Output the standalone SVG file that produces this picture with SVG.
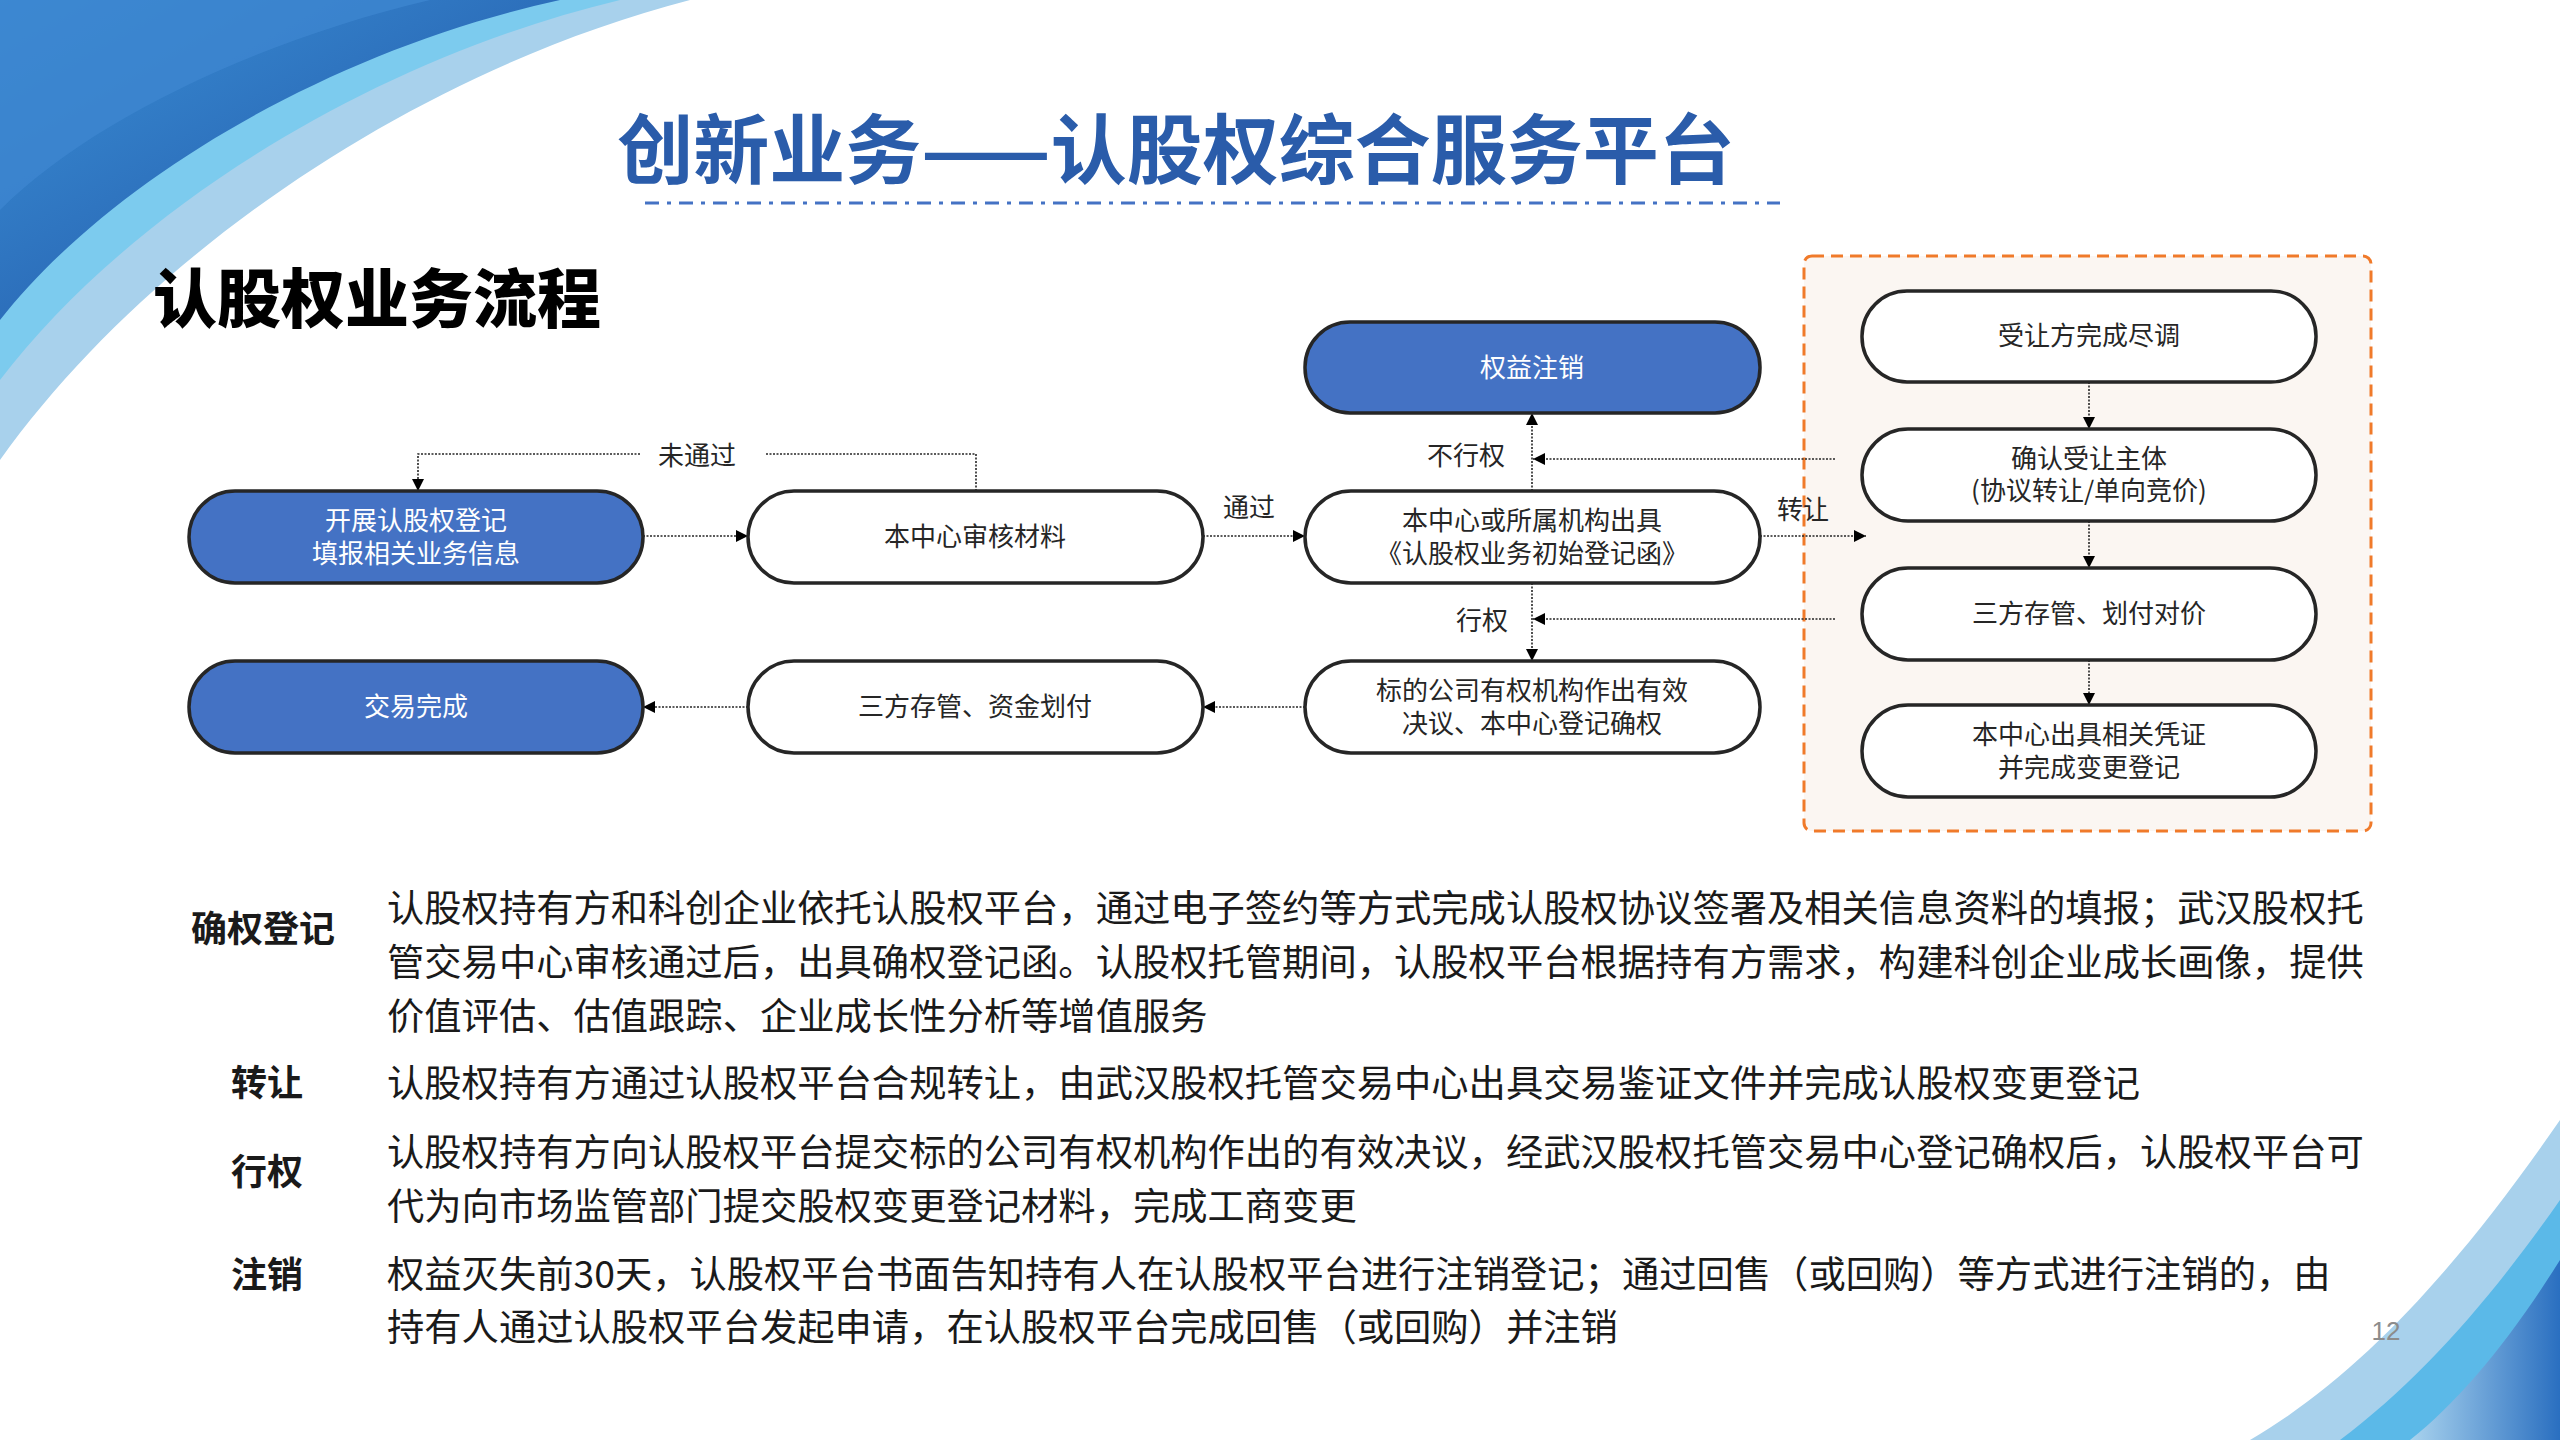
<svg xmlns="http://www.w3.org/2000/svg" width="2560" height="1440" viewBox="0 0 2560 1440">
<defs>
<linearGradient id="g1" x1="0" y1="0" x2="1" y2="1"><stop offset="0" stop-color="#3a8fd6"/><stop offset="1" stop-color="#1f4fa0"/></linearGradient>
<linearGradient id="g2" x1="0" y1="0" x2="1" y2="0"><stop offset="0" stop-color="#a9d3ee"/><stop offset="1" stop-color="#2a6fc0"/></linearGradient>
<marker id="ah" viewBox="0 0 10 10" refX="10" refY="5" markerWidth="12" markerHeight="12" markerUnits="userSpaceOnUse" orient="auto"><path d="M0,0 L10,5 L0,10 z" fill="#000"/></marker>
<style>
.n{stroke:#262626;stroke-width:3.5}
.w{fill:#fff}
.b{fill:#4472c4}
.t{font-family:"Noto Sans CJK SC","Liberation Sans",sans-serif;font-size:26px;text-anchor:middle;fill:#262626}
.tw{fill:#fff}
.c{fill:none;stroke:#262626;stroke-width:1.6;stroke-dasharray:2 1.5}
.lb{font-family:"Noto Sans CJK SC","Liberation Sans",sans-serif;font-size:26px;fill:#262626;text-anchor:middle}
.body{font-family:"Noto Sans CJK SC","Liberation Sans",sans-serif;font-size:37.3px;fill:#1a1a1a}
.hd{font-family:"Noto Sans CJK SC","Liberation Sans",sans-serif;font-size:36px;font-weight:bold;fill:#1a1a1a;text-anchor:middle}
</style>
</defs>
<rect width="2560" height="1440" fill="#fff"/>
<path d="M0,0 L690,0 C420,70 150,250 0,460 Z" fill="#a8d1ec"/>
<path d="M0,0 L620,0 C370,60 130,210 0,380 Z" fill="#7ccbee"/>
<path d="M0,0 L560,0 C330,50 110,180 0,320 Z" fill="url(#g1)"/>
<path d="M0,0 L430,0 C260,40 90,120 0,210 Z" fill="#3d86cf" opacity="0.8"/>
<path d="M2560,1120 C2470,1250 2370,1370 2250,1440 L2560,1440 Z" fill="#a8d1ec"/>
<path d="M2560,1200 C2490,1300 2420,1380 2340,1440 L2560,1440 Z" fill="#5bb9e8"/>
<path d="M2560,1260 C2510,1340 2460,1400 2410,1440 L2560,1440 Z" fill="url(#g2)"/>
<text x="1176" y="178" font-family="Noto Sans CJK SC,sans-serif" font-size="76" font-weight="bold" fill="#2a5caa" text-anchor="middle">创新业务——认股权综合服务平台</text>
<line x1="645" y1="203" x2="1780" y2="203" stroke="#4472c4" stroke-width="3" stroke-dasharray="14 8 4 8"/>
<text x="153" y="322" font-family="Noto Sans CJK SC,sans-serif" font-size="64" font-weight="900" fill="#000">认股权业务流程</text>
<rect x="1804" y="256" width="567" height="575" rx="8" fill="#fbf6f2" stroke="#f07a2a" stroke-width="3" stroke-dasharray="12 7"/>
<g id="connectors">
<path class="c" d="M643,536 H748" marker-end="url(#ah)"/>
<path class="c" d="M1203,536 H1305" marker-end="url(#ah)"/>
<path class="c" d="M976,491 V454 H765 M640,454 H418 V491" marker-end="url(#ah)"/>
<path class="c" d="M1760,536 H1866" marker-end="url(#ah)"/>
<path class="c" d="M1532,491 V413" marker-end="url(#ah)"/>
<path class="c" d="M1532,583 V661" marker-end="url(#ah)"/>
<path class="c" d="M1835,459 H1533" marker-end="url(#ah)"/>
<path class="c" d="M1835,619 H1533" marker-end="url(#ah)"/>
<path class="c" d="M1305,707 H1203" marker-end="url(#ah)"/>
<path class="c" d="M748,707 H643" marker-end="url(#ah)"/>
<path class="c" d="M2089,382 V429" marker-end="url(#ah)"/>
<path class="c" d="M2089,521 V568" marker-end="url(#ah)"/>
<path class="c" d="M2089,660 V705" marker-end="url(#ah)"/>
<text class="lb" x="697" y="465">未通过</text>
<text class="lb" x="1249" y="517">通过</text>
<text class="lb" x="1803" y="519">转让</text>
<text class="lb" x="1466" y="465">不行权</text>
<text class="lb" x="1482" y="630">行权</text>
</g>
<g id="n1"><rect class="n b" x="189" y="491" width="454" height="92" rx="46"/><text class="t tw" x="416" y="530">开展认股权登记</text><text class="t tw" x="416" y="563">填报相关业务信息</text></g>
<g id="n2"><rect class="n w" x="748" y="491" width="455" height="92" rx="46"/><text class="t" x="975" y="546">本中心审核材料</text></g>
<g id="n3"><rect class="n w" x="1305" y="491" width="455" height="92" rx="46"/><text class="t" x="1532" y="530">本中心或所属机构出具</text><text class="t" x="1532" y="563">《认股权业务初始登记函》</text></g>
<g id="n4"><rect class="n b" x="1305" y="322" width="455" height="91" rx="45"/><text class="t tw" x="1532" y="377">权益注销</text></g>
<g id="n5"><rect class="n b" x="189" y="661" width="454" height="92" rx="46"/><text class="t tw" x="416" y="716">交易完成</text></g>
<g id="n6"><rect class="n w" x="748" y="661" width="455" height="92" rx="46"/><text class="t" x="975" y="716">三方存管、资金划付</text></g>
<g id="n7"><rect class="n w" x="1305" y="661" width="455" height="92" rx="46"/><text class="t" x="1532" y="700">标的公司有权机构作出有效</text><text class="t" x="1532" y="733">决议、本中心登记确权</text></g>
<g id="n8"><rect class="n w" x="1862" y="291" width="454" height="91" rx="45"/><text class="t" x="2089" y="345">受让方完成尽调</text></g>
<g id="n9"><rect class="n w" x="1862" y="429" width="454" height="92" rx="46"/><text class="t" x="2089" y="468">确认受让主体</text><text class="t" x="2089" y="500">(协议转让/单向竞价)</text></g>
<g id="n10"><rect class="n w" x="1862" y="568" width="454" height="92" rx="46"/><text class="t" x="2089" y="623">三方存管、划付对价</text></g>
<g id="n11"><rect class="n w" x="1862" y="705" width="454" height="92" rx="46"/><text class="t" x="2089" y="744">本中心出具相关凭证</text><text class="t" x="2089" y="777">并完成变更登记</text></g>
<text class="hd" x="263" y="942">确权登记</text>
<text class="body" x="387" y="922">认股权持有方和科创企业依托认股权平台，通过电子签约等方式完成认股权协议签署及相关信息资料的填报；武汉股权托</text>
<text class="body" x="387" y="976">管交易中心审核通过后，出具确权登记函。认股权托管期间，认股权平台根据持有方需求，构建科创企业成长画像，提供</text>
<text class="body" x="387" y="1030">价值评估、估值跟踪、企业成长性分析等增值服务</text>
<text class="hd" x="267" y="1096">转让</text>
<text class="body" x="387" y="1097">认股权持有方通过认股权平台合规转让，由武汉股权托管交易中心出具交易鉴证文件并完成认股权变更登记</text>
<text class="hd" x="267" y="1185">行权</text>
<text class="body" x="387" y="1166">认股权持有方向认股权平台提交标的公司有权机构作出的有效决议，经武汉股权托管交易中心登记确权后，认股权平台可</text>
<text class="body" x="387" y="1220">代为向市场监管部门提交股权变更登记材料，完成工商变更</text>
<text class="hd" x="267" y="1288">注销</text>
<text class="body" x="387" y="1288">权益灭失前30天，认股权平台书面告知持有人在认股权平台进行注销登记；通过回售（或回购）等方式进行注销的，由</text>
<text class="body" x="387" y="1341">持有人通过认股权平台发起申请，在认股权平台完成回售（或回购）并注销</text>
<text x="2386" y="1340" font-family="Liberation Sans,sans-serif" font-size="26" fill="#8c8c8c" text-anchor="middle">12</text>
</svg>
